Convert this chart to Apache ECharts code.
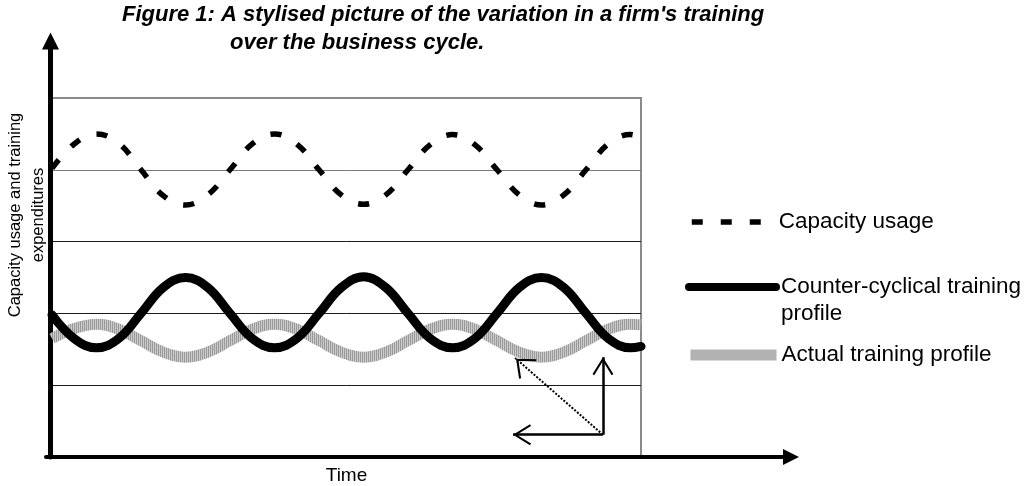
<!DOCTYPE html>
<html><head><meta charset="utf-8">
<script src="https://cdn.jsdelivr.net/npm/echarts@6/dist/echarts.min.js"></script>
<style>html,body{margin:0;padding:0;background:#fff}#c{width:1025px;height:486px}</style>
</head><body><div id="c"></div>
<script>
// ---- data ----
const time = [0,1,2,3,4,5,6,7,8,9,10,11,12,13,14,15,16,17,18,19,20,21,22,23,24,25,26,26.47];
const capacityUsage   = [4.02,4.36,4.50,4.37,4.00,3.64,3.51,3.65,4.00,4.36,4.50,4.36,4.00,3.65,3.52,3.65,4.00,4.35,4.49,4.35,4.00,3.65,3.51,3.65,4.00,4.36,4.49,4.45];
const counterCyclical = [1.98,1.65,1.52,1.65,2.00,2.36,2.50,2.36,2.00,1.65,1.52,1.65,2.00,2.36,2.51,2.36,2.00,1.65,1.52,1.65,2.00,2.36,2.50,2.36,2.00,1.65,1.52,1.54];
const actualTraining  = [1.65,1.79,1.85,1.78,1.62,1.46,1.39,1.46,1.62,1.78,1.85,1.78,1.62,1.46,1.39,1.46,1.62,1.78,1.85,1.78,1.62,1.46,1.39,1.46,1.62,1.78,1.85,1.84];
const seriesNames = ['Capacity usage', 'Counter-cyclical training profile', 'Actual training profile'];
const titleLines = ["Figure 1: A stylised picture of the variation in a firm's training", 'over the business cycle.'];
const yTitle = 'Capacity usage and training\nexpenditures';
const xTitle = 'Time';
// annotation arrows: common base point and the three tips (in data units)
const arrowBase = [24.76, 0.31];
const arrowTips = [[24.76, 1.39], [20.72, 0.31], [20.81, 1.38]];

const FONT = '"Liberation Sans", Arial, sans-serif';
function pairs(xs, ys) { return xs.map((x, i) => [x, ys[i]]); }

// hatched grey texture for the "actual" line
const pat = document.createElement('canvas'); pat.width = 2; pat.height = 2;
const pc = pat.getContext('2d');
pc.fillStyle = '#cbcbcb'; pc.fillRect(0, 0, 2, 2);
pc.fillStyle = '#9a9a9a'; pc.fillRect(0, 0, 1, 2);
const grayPattern = { image: pat, repeat: 'repeat' };

// open chevron arrow head in a square 36x36 box, apex at the centre (specks fix the box)
const chev = 'path://M0,0L0.2,0L0.1,0.2Z M35.8,0L36,0L35.9,0.2Z M18,18L28.4,34.9L26.7,36L18,21.7L9.3,36L7.6,34.9Z';
const chevWide = 'path://M0,0L0.2,0L0.1,0.2Z M35.8,0L36,0L35.9,0.2Z M18,18L31,32.4L29.4,33.6L18,21.1L6.6,33.6L5,32.4Z';

const chart = echarts.init(document.getElementById('c'), null, { renderer: 'canvas' });
const hidden = { axisLine: { show: false }, axisTick: { show: false }, axisLabel: { show: false }, splitLine: { show: false } };
const legendCommon = { orient: 'vertical', padding: 0, itemHeight: 14, selectedMode: false,
  itemStyle: { opacity: 0, borderWidth: 0, color: 'rgba(0,0,0,0)' } };
const SMOOTH = 0.4;

const option = {
  animation: false,
  backgroundColor: '#fff',
  textStyle: { fontFamily: FONT, color: '#000' },
  title: [
    { text: titleLines[0], left: 122, top: 3, padding: 0,
      textStyle: { fontFamily: FONT, fontSize: 22, fontWeight: 'bold', fontStyle: 'italic', lineHeight: 24, color: '#000' } },
    { text: titleLines[1], left: 230, top: 31, padding: 0,
      textStyle: { fontFamily: FONT, fontSize: 22, fontWeight: 'bold', fontStyle: 'italic', lineHeight: 24, color: '#000' } }
  ],
  grid: [
    { left: 52, right: 384, top: 98, bottom: 29, show: true, borderColor: '#8a8a8a', borderWidth: 2,
      backgroundColor: 'transparent', containLabel: false, outerBoundsMode: 'none' },
    { left: 46, right: 234, top: 41, bottom: 29, containLabel: false, outerBoundsMode: 'none' }
  ],
  xAxis: [
    Object.assign({ gridIndex: 0, type: 'value', min: 0, max: 26.47,
      name: xTitle, nameLocation: 'middle', nameGap: 8,
      nameTextStyle: { fontFamily: FONT, fontSize: 19, lineHeight: 22, color: '#000' } }, hidden),
    Object.assign({ gridIndex: 1, type: 'value', min: 0, max: 1 }, hidden,
      { axisLine: { show: true, symbol: ['none', 'triangle'], symbolSize: [16, 16], lineStyle: { color: '#000', width: 4 } } })
  ],
  yAxis: [
    Object.assign({ gridIndex: 0, type: 'value', min: 0, max: 5, interval: 1 }, hidden,
      { splitLine: { show: true, lineStyle: { width: 1, color: ['#000', '#1a1a1a', '#1a1a1a', '#1a1a1a', '#7a7a7a', '#8a8a8a'] } } }),
    Object.assign({ gridIndex: 1, type: 'value', min: 0, max: 1, offset: -4.5 }, hidden,
      { axisLine: { show: true, symbol: ['none', 'triangle'], symbolSize: [17, 17], lineStyle: { color: '#000', width: 5 } } })
  ],
  legend: [
    Object.assign({ data: [seriesNames[0]], left: 689, top: 209, itemWidth: 82,
      textStyle: { fontFamily: FONT, fontSize: 22.5, lineHeight: 26, color: '#000' },
      lineStyle: { width: 5.5 } }, legendCommon),
    Object.assign({ data: [seriesNames[1]], left: 685, top: 246.5, itemWidth: 87,
      formatter: () => ' \nCounter-cyclical training\nprofile',
      textStyle: { fontFamily: FONT, fontSize: 22.5, lineHeight: 27, color: '#000' },
      lineStyle: { width: 8 } }, legendCommon),
    Object.assign({ data: [seriesNames[2]], left: 685, top: 342, itemWidth: 86,
      textStyle: { fontFamily: FONT, fontSize: 22.5, lineHeight: 26, color: '#000' },
      lineStyle: { width: 11 } }, legendCommon)
  ],
  graphic: [
    { type: 'text', x: 27, y: 215, rotation: Math.PI / 2, silent: true,
      style: { text: yTitle, font: '16.5px ' + FONT, fill: '#000', align: 'center', verticalAlign: 'middle', lineHeight: 23 } }
  ],
  series: [
    { type: 'line', name: seriesNames[2], xAxisIndex: 0, yAxisIndex: 0, data: pairs(time, actualTraining),
      smooth: SMOOTH, symbol: 'none', z: 2, emphasis: { disabled: true },
      lineStyle: { color: grayPattern, width: 11, cap: 'butt' }, itemStyle: { color: '#b0b0b0' } },
    { type: 'line', name: seriesNames[1], xAxisIndex: 0, yAxisIndex: 0, data: pairs(time, counterCyclical),
      smooth: SMOOTH, symbol: 'none', z: 3, emphasis: { disabled: true },
      lineStyle: { color: '#000', width: 9, cap: 'round', join: 'round' }, itemStyle: { color: '#000' },
      markLine: {
        silent: true, animation: false, label: { show: false }, emphasis: { disabled: true },
        symbol: ['none', chev], symbolSize: 36,
        itemStyle: { color: '#000' },
        lineStyle: { color: '#000', width: 2.5, type: 'solid' },
        data: [
          [{ coord: arrowBase }, { coord: arrowTips[0] }],
          [{ coord: arrowBase }, { coord: arrowTips[1] }],
          [{ coord: arrowBase, lineStyle: { type: [2, 1.6], width: 2 } },
           { coord: arrowTips[2], symbol: chevWide, lineStyle: { type: [2, 1.6], width: 2 } }]
        ]
      } },
    { type: 'line', name: seriesNames[0], xAxisIndex: 0, yAxisIndex: 0, data: pairs(time, capacityUsage),
      smooth: SMOOTH, symbol: 'none', z: 4, emphasis: { disabled: true },
      lineStyle: { color: '#000', width: 5.5, type: [11, 18], cap: 'butt' }, itemStyle: { color: '#000' } }
  ]
};
chart.setOption(option);
</script></body></html>
